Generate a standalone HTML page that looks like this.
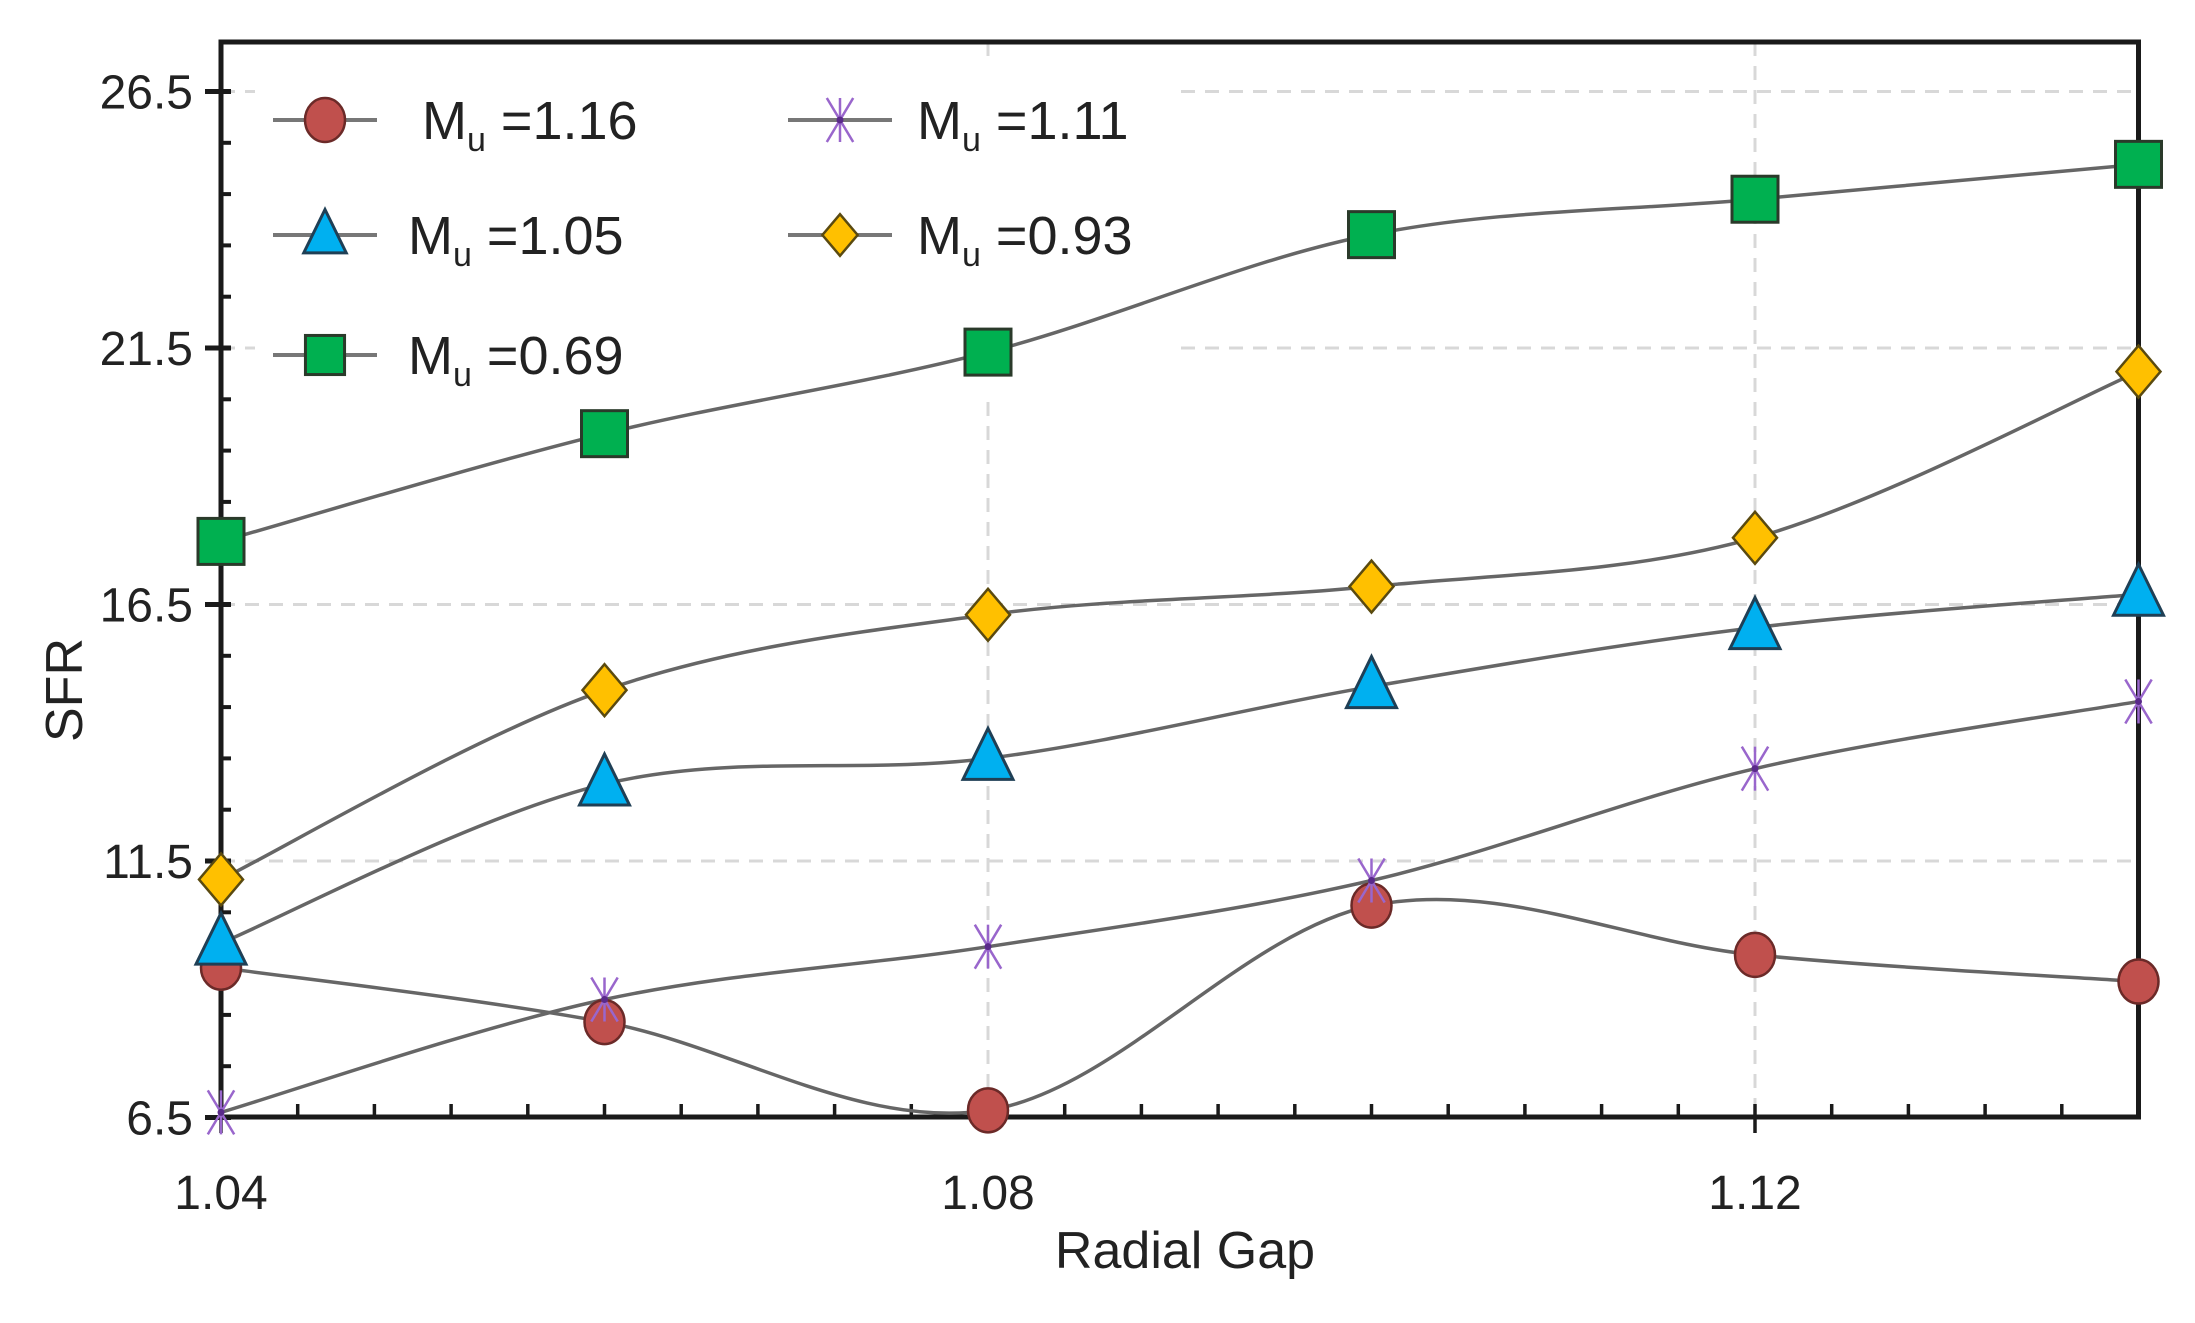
<!DOCTYPE html>
<html><head><meta charset="utf-8"><style>
html,body{margin:0;padding:0;background:#fff;}
svg{display:block;}
text{font-family:"Liberation Sans Narrow","Liberation Sans",sans-serif;fill:#222;}
</style></head><body>
<svg id="s" width="2195" height="1323" viewBox="0 0 2195 1323" xmlns="http://www.w3.org/2000/svg">
<g id="grid" stroke="#d8d8d8" stroke-width="3" stroke-dasharray="14,10" fill="none"></g>
<rect x="255" y="62" width="920" height="330" fill="#fff"/>
<g id="axes"></g>
<g id="series"></g>
<g id="legend"></g>
<text x="1185" y="1268" font-size="52" text-anchor="middle">Radial Gap</text>
<text transform="translate(82,690) rotate(-90)" font-size="52" text-anchor="middle">SFR</text>
</svg>
<script>
const NS="http://www.w3.org/2000/svg";
const SX=383.5;
const L=221,R=L+5*SX,T=42,B=1117;
const X=v=>L+(v-1.04)/0.02*SX;
const Y=v=>91.5+(26.5-v)*51.3;
function el(p,tag,a,txt){const e=document.createElementNS(NS,tag);for(const k in a)e.setAttribute(k,a[k]);if(txt)e.textContent=txt;p.appendChild(e);return e;}
const s=document.getElementById('s'),grid=document.getElementById('grid'),axes=document.getElementById('axes'),ser=document.getElementById('series'),leg=document.getElementById('legend');
[26.5,21.5,16.5,11.5].forEach(v=>el(grid,'line',{x1:L,x2:R,y1:Y(v),y2:Y(v)}));
[1.08,1.12].forEach(v=>el(grid,'line',{x1:X(v),x2:X(v),y1:T,y2:B}));
el(axes,'path',{d:`M${L} ${T}H${R}V${B}H${L}Z`,fill:'none',stroke:'#1a1a1a','stroke-width':5});
for(let v=6.5;v<=26.6;v+=1){const y=Y(v);const maj=Math.abs((v-6.5)%5)<0.01;
 el(axes,'line',{x1:maj?L-16:L,x2:L+10,y1:y,y2:y,stroke:'#1a1a1a','stroke-width':maj?5:4});
 if(maj)el(axes,'text',{x:L-28,y:y+17,'font-size':48,'text-anchor':'end'},v.toFixed(1));}
for(let i=0;i<=25;i++){const v=1.04+i*0.004;const x=X(v);const maj=i%10==0;
 el(axes,'line',{x1:x,x2:x,y1:B-13,y2:maj?B+16:B,stroke:'#1a1a1a','stroke-width':3.5});
 if(maj&&i<25)el(axes,'text',{x:x,y:1209,'font-size':48,'text-anchor':'middle'},v.toFixed(2));}
function spline(pts){let d=`M${pts[0][0]} ${pts[0][1]}`;
 for(let i=0;i<pts.length-1;i++){const p0=pts[i-1]||pts[i],p1=pts[i],p2=pts[i+1],p3=pts[i+2]||p2;
 const c1=[p1[0]+(p2[0]-p0[0])/6,p1[1]+(p2[1]-p0[1])/6],c2=[p2[0]-(p3[0]-p1[0])/6,p2[1]-(p3[1]-p1[1])/6];
 d+=`C${c1[0]} ${c1[1]} ${c2[0]} ${c2[1]} ${p2[0]} ${p2[1]}`;}return d;}
function marker(g,type,x,y,sc){sc=sc||1;
 if(type=='c')el(g,'ellipse',{cx:x,cy:y,rx:20*sc,ry:22*sc,fill:'#c0504d',stroke:'#6b2a28','stroke-width':2.5});
 if(type=='s')el(g,'rect',{x:x-23*sc,y:y-23*sc,width:46*sc,height:46*sc,fill:'#00b050',stroke:'#2a3a2a','stroke-width':3});
 if(type=='t')el(g,'path',{d:`M${x} ${y-30*sc}L${x+25*sc} ${y+21*sc}L${x-25*sc} ${y+21*sc}Z`,fill:'#00b0f0',stroke:'#1f3f55','stroke-width':3});
 if(type=='d')el(g,'path',{d:`M${x} ${y-26*sc}L${x+22*sc} ${y}L${x} ${y+26*sc}L${x-22*sc} ${y}Z`,fill:'#ffc000',stroke:'#5a4a10','stroke-width':2.5});
 if(type=='x'){const r=22*sc;
  [[-r*0.6,-r,r*0.6,r],[r*0.6,-r,-r*0.6,r],[0,-r,0,r]].forEach(q=>el(g,'line',{x1:x+q[0],y1:y+q[1],x2:x+q[2],y2:y+q[3],stroke:'#9966cc','stroke-width':2.5}));
  el(g,'circle',{cx:x,cy:y,r:3.5,fill:'#5a2a8a'});}
}
const xs=[1.04,1.06,1.08,1.10,1.12,1.14].map(X);
const data=[
 ['c',[9.42,8.36,6.64,10.63,9.67,9.15]],
 ['x',[6.6,8.8,9.83,11.12,13.3,14.61]],
 ['t',[9.9,13.0,13.5,14.9,16.05,16.7]],
 ['d',[11.14,14.83,16.3,16.85,17.8,21.04]],
 ['s',[17.73,19.83,21.42,23.71,24.4,25.08]]];
data.forEach(([t,v])=>{const pts=v.map((y,i)=>[xs[i],Y(y)]);
 el(ser,'path',{d:spline(pts),fill:'none',stroke:'#666','stroke-width':3.5});});
data.forEach(([t,v])=>v.forEach((y,i)=>marker(ser,t,xs[i],Y(y))));
const items=[['c',325,120,'1.16',422],['x',840,120,'1.11',917],['t',325,235,'1.05',408],['d',840,235,'0.93',917],['s',325,355,'0.69',408]];
items.forEach(([t,x,y,lab,tx])=>{el(leg,'line',{x1:x-52,x2:x+52,y1:y,y2:y,stroke:'#777','stroke-width':4});
 marker(leg,t,x,y,t=='s'?0.85:(t=='d'?0.8:(t=='t'?0.85:1)));
 const te=el(leg,'text',{x:tx,y:y+19,'font-size':54});
 te.appendChild(document.createTextNode('M'));
 el(te,'tspan',{'font-size':34,dy:12},'u');
 el(te,'tspan',{dy:-12},' =' + lab);});
</script>
</body></html>
